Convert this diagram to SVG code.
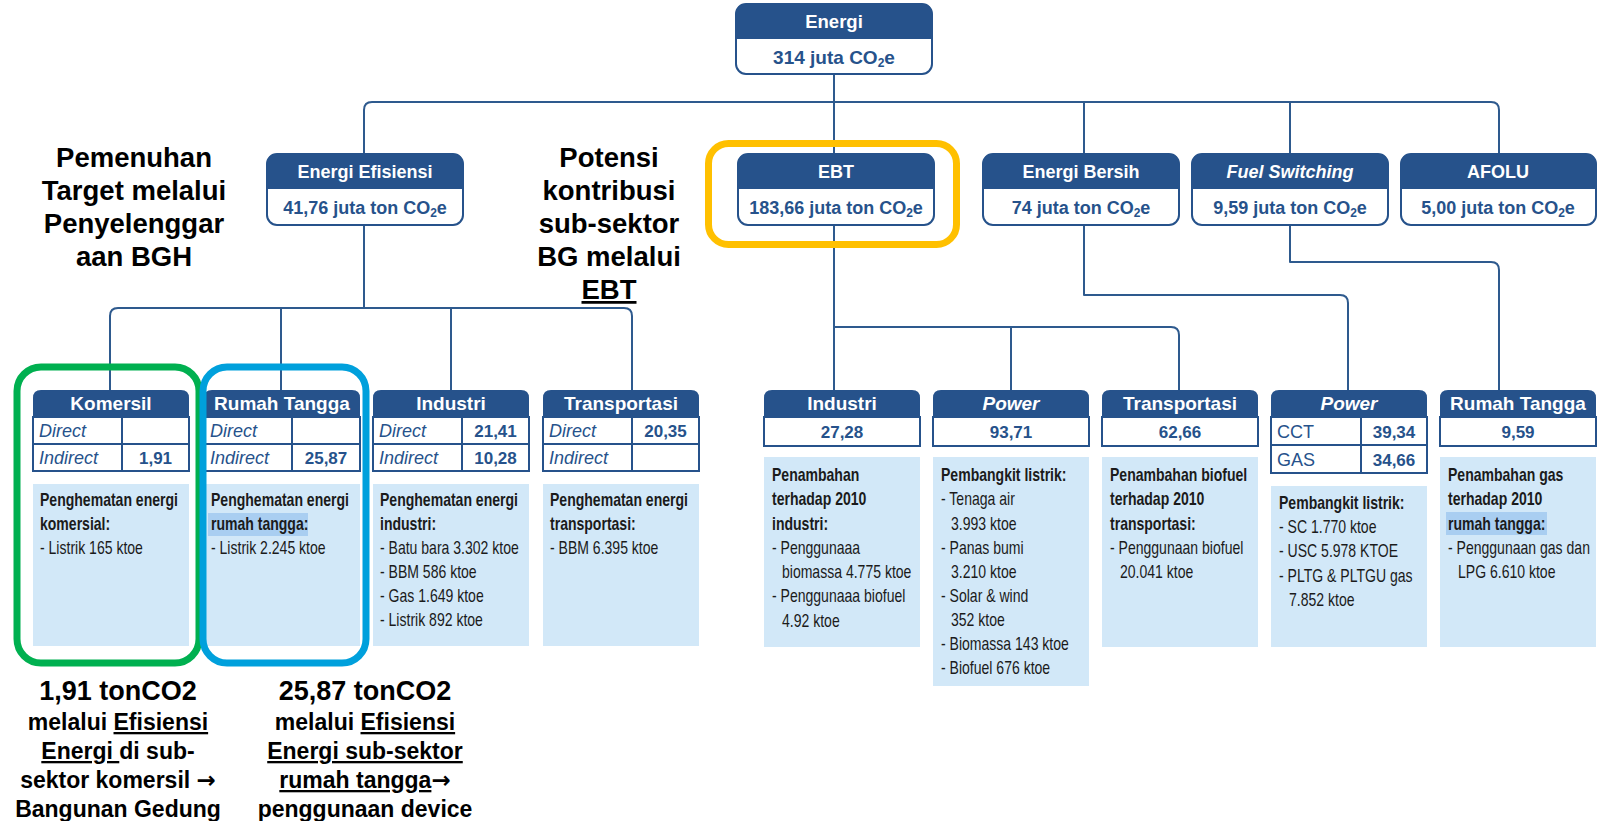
<svg xmlns="http://www.w3.org/2000/svg" width="1598" height="821" viewBox="0 0 1598 821">
<style>
.hd{fill:#26528B}
.bx{fill:#fff;stroke:#26528B;stroke-width:2}
.tb{fill:none;stroke:#26528B;stroke-width:2}
.ln{fill:none;stroke:#2E5A8E;stroke-width:2;stroke-linejoin:round}
.lb{fill:#D2E8F8}
.hl{fill:#A9CEF1}
.ht{font-family:"Liberation Sans",Arial,sans-serif;font-weight:bold;fill:#fff;text-anchor:middle}
.vt{font-family:"Liberation Sans",Arial,sans-serif;font-weight:bold;fill:#26528B;text-anchor:middle}
.it{font-family:"Liberation Sans",Arial,sans-serif;font-style:italic;fill:#26528B;font-size:18px}
.rg{font-family:"Liberation Sans",Arial,sans-serif;fill:#26528B;font-size:18px}
.d{font-family:"Liberation Sans",Arial,sans-serif;font-size:18px;fill:#1b1b1b}
.b{font-weight:bold}
.an{font-family:"Liberation Sans",Arial,sans-serif;font-weight:bold;fill:#000;text-anchor:middle}
.u{text-decoration:underline}
.ar{font-family:"DejaVu Sans",sans-serif;font-weight:bold}
.ring{fill:none;stroke-width:7}
</style>

<!-- connectors -->
<g id="connectors">
  <path class="ln" d="M834 74 V390"/>
  <path class="ln" d="M364 154 V110 Q364 102 372 102 H1491 Q1499 102 1499 110 V154"/>
  <path class="ln" d="M1084 102 V154"/>
  <path class="ln" d="M1290 102 V154"/>
  <path class="ln" d="M364 225 V308"/>
  <path class="ln" d="M110 390 V316 Q110 308 118 308 H624 Q632 308 632 316 V390"/>
  <path class="ln" d="M281 308 V390"/>
  <path class="ln" d="M451 308 V390"/>
  <path class="ln" d="M834 327 H1171 Q1179 327 1179 335 V390"/>
  <path class="ln" d="M1011 327 V390"/>
  <path class="ln" d="M1084 225 V295 H1340 Q1348 295 1348 303 V390"/>
  <path class="ln" d="M1290 225 V262 H1491 Q1499 262 1499 270 V390"/>
</g>

<!-- top node -->
<g id="n-energi">
  <rect class="bx" x="736" y="4" width="196" height="70" rx="10"/>
  <path class="hd" d="M736 39 V14 Q736 4 746 4 H922 Q932 4 932 14 V39 Z"/>
  <text class="ht" x="834" y="28" font-size="18.5">Energi</text>
  <text class="vt" x="834" y="64" font-size="19">314 juta CO<tspan font-size="12" dy="3">2</tspan><tspan dy="-3">e</tspan></text>
</g>

<!-- level 2 -->
<g id="n-ee">
  <rect class="bx" x="267" y="154" width="196" height="71" rx="10"/>
  <path class="hd" d="M267 189 V164 Q267 154 277 154 H453 Q463 154 463 164 V189 Z"/>
  <text class="ht" x="365" y="178" font-size="18">Energi Efisiensi</text>
  <text class="vt" x="365" y="214" font-size="18">41,76 juta ton CO<tspan font-size="12" dy="3">2</tspan><tspan dy="-3">e</tspan></text>
</g>
<g id="n-ebt">
  <rect class="bx" x="738" y="154" width="196" height="71" rx="10"/>
  <path class="hd" d="M738 189 V164 Q738 154 748 154 H924 Q934 154 934 164 V189 Z"/>
  <text class="ht" x="836" y="178" font-size="18">EBT</text>
  <text class="vt" x="836" y="214" font-size="18">183,66 juta ton CO<tspan font-size="12" dy="3">2</tspan><tspan dy="-3">e</tspan></text>
</g>
<g id="n-eb">
  <rect class="bx" x="983" y="154" width="196" height="71" rx="10"/>
  <path class="hd" d="M983 189 V164 Q983 154 993 154 H1169 Q1179 154 1179 164 V189 Z"/>
  <text class="ht" x="1081" y="178" font-size="18">Energi Bersih</text>
  <text class="vt" x="1081" y="214" font-size="18">74 juta ton CO<tspan font-size="12" dy="3">2</tspan><tspan dy="-3">e</tspan></text>
</g>
<g id="n-fs">
  <rect class="bx" x="1192" y="154" width="196" height="71" rx="10"/>
  <path class="hd" d="M1192 189 V164 Q1192 154 1202 154 H1378 Q1388 154 1388 164 V189 Z"/>
  <text class="ht" x="1290" y="178" font-size="18" font-style="italic">Fuel Switching</text>
  <text class="vt" x="1290" y="214" font-size="18">9,59 juta ton CO<tspan font-size="12" dy="3">2</tspan><tspan dy="-3">e</tspan></text>
</g>
<g id="n-afolu">
  <rect class="bx" x="1401" y="154" width="195" height="71" rx="10"/>
  <path class="hd" d="M1401 189 V164 Q1401 154 1411 154 H1586 Q1596 154 1596 164 V189 Z"/>
  <text class="ht" x="1498" y="178" font-size="18">AFOLU</text>
  <text class="vt" x="1498" y="214" font-size="18">5,00 juta ton CO<tspan font-size="12" dy="3">2</tspan><tspan dy="-3">e</tspan></text>
</g>

<!-- level 3 left -->
<g id="n-komersil">
  <rect class="bx" x="33" y="417" width="156" height="54"/>
  <path class="hd" d="M33 417 V398 Q33 390 41 390 H181 Q189 390 189 398 V417 Z"/>
  <path class="tb" d="M33 444 H189 M122 417 V471"/>
  <text class="ht" x="111" y="410" font-size="19">Komersil</text>
  <text class="it" x="39" y="437">Direct</text>
  <text class="it" x="39" y="464">Indirect</text>
  <text class="vt" x="155.5" y="464" font-size="17">1,91</text>
  <rect class="lb" x="33" y="484" width="156" height="162"/>
  <g transform="translate(40 0) scale(0.78 1)">
    <text class="d b" y="506">Penghematan energi</text>
    <text class="d b" y="530">komersial:</text>
    <text class="d" y="554">- Listrik 165 ktoe</text>
  </g>
</g>
<g id="n-rt1">
  <rect class="bx" x="204" y="417" width="156" height="54"/>
  <path class="hd" d="M204 417 V398 Q204 390 212 390 H352 Q360 390 360 398 V417 Z"/>
  <path class="tb" d="M204 444 H360 M292 417 V471"/>
  <text class="ht" x="282" y="410" font-size="19">Rumah Tangga</text>
  <text class="it" x="210" y="437">Direct</text>
  <text class="it" x="210" y="464">Indirect</text>
  <text class="vt" x="326" y="464" font-size="17">25,87</text>
  <rect class="lb" x="204" y="484" width="156" height="162"/>
  <rect class="hl" x="208" y="513" width="100" height="23"/>
  <g transform="translate(211 0) scale(0.78 1)">
    <text class="d b" y="506">Penghematan energi</text>
    <text class="d b" y="530">rumah tangga:</text>
    <text class="d" y="554">- Listrik 2.245 ktoe</text>
  </g>
</g>
<g id="n-ind1">
  <rect class="bx" x="373" y="417" width="156" height="54"/>
  <path class="hd" d="M373 417 V398 Q373 390 381 390 H521 Q529 390 529 398 V417 Z"/>
  <path class="tb" d="M373 444 H529 M462 417 V471"/>
  <text class="ht" x="451" y="410" font-size="19">Industri</text>
  <text class="it" x="379" y="437">Direct</text>
  <text class="it" x="379" y="464">Indirect</text>
  <text class="vt" x="495.5" y="437" font-size="17">21,41</text>
  <text class="vt" x="495.5" y="464" font-size="17">10,28</text>
  <rect class="lb" x="373" y="484" width="156" height="162"/>
  <g transform="translate(380 0) scale(0.78 1)">
    <text class="d b" y="506">Penghematan energi</text>
    <text class="d b" y="530">industri:</text>
    <text class="d" y="554">- Batu bara 3.302 ktoe</text>
    <text class="d" y="578">- BBM 586 ktoe</text>
    <text class="d" y="602">- Gas 1.649 ktoe</text>
    <text class="d" y="626">- Listrik 892 ktoe</text>
  </g>
</g>
<g id="n-tr1">
  <rect class="bx" x="543" y="417" width="156" height="54"/>
  <path class="hd" d="M543 417 V398 Q543 390 551 390 H691 Q699 390 699 398 V417 Z"/>
  <path class="tb" d="M543 444 H699 M632 417 V471"/>
  <text class="ht" x="621" y="410" font-size="19">Transportasi</text>
  <text class="it" x="549" y="437">Direct</text>
  <text class="it" x="549" y="464">Indirect</text>
  <text class="vt" x="665.5" y="437" font-size="17">20,35</text>
  <rect class="lb" x="543" y="484" width="156" height="162"/>
  <g transform="translate(550 0) scale(0.78 1)">
    <text class="d b" y="506">Penghematan energi</text>
    <text class="d b" y="530">transportasi:</text>
    <text class="d" y="554">- BBM 6.395 ktoe</text>
  </g>
</g>

<!-- level 3 right -->
<g id="n-ind2">
  <rect class="bx" x="764" y="417" width="156" height="29"/>
  <path class="hd" d="M764 417 V398 Q764 390 772 390 H912 Q920 390 920 398 V417 Z"/>
  <text class="ht" x="842" y="410" font-size="19">Industri</text>
  <text class="vt" x="842" y="438" font-size="17">27,28</text>
  <rect class="lb" x="764" y="457" width="156" height="190"/>
  <g transform="translate(772 0) scale(0.78 1)">
    <text class="d b" y="481">Penambahan</text>
    <text class="d b" y="505">terhadap 2010</text>
    <text class="d b" y="530">industri:</text>
    <text class="d" y="554">- Penggunaaa</text>
    <text class="d" x="12.8" y="578">biomassa 4.775 ktoe</text>
    <text class="d" y="602">- Penggunaaa biofuel</text>
    <text class="d" x="12.8" y="627">4.92 ktoe</text>
  </g>
</g>
<g id="n-pow1">
  <rect class="bx" x="933" y="417" width="156" height="29"/>
  <path class="hd" d="M933 417 V398 Q933 390 941 390 H1081 Q1089 390 1089 398 V417 Z"/>
  <text class="ht" x="1011" y="410" font-size="19" font-style="italic">Power</text>
  <text class="vt" x="1011" y="438" font-size="17">93,71</text>
  <rect class="lb" x="933" y="457" width="156" height="229"/>
  <g transform="translate(941 0) scale(0.78 1)">
    <text class="d b" y="481">Pembangkit listrik:</text>
    <text class="d" y="505">- Tenaga air</text>
    <text class="d" x="12.8" y="530">3.993 ktoe</text>
    <text class="d" y="554">- Panas bumi</text>
    <text class="d" x="12.8" y="578">3.210 ktoe</text>
    <text class="d" y="602">- Solar &amp; wind</text>
    <text class="d" x="12.8" y="626">352 ktoe</text>
    <text class="d" y="650">- Biomassa 143 ktoe</text>
    <text class="d" y="674">- Biofuel 676 ktoe</text>
  </g>
</g>
<g id="n-tr2">
  <rect class="bx" x="1102" y="417" width="156" height="29"/>
  <path class="hd" d="M1102 417 V398 Q1102 390 1110 390 H1250 Q1258 390 1258 398 V417 Z"/>
  <text class="ht" x="1180" y="410" font-size="19">Transportasi</text>
  <text class="vt" x="1180" y="438" font-size="17">62,66</text>
  <rect class="lb" x="1102" y="457" width="156" height="190"/>
  <g transform="translate(1110 0) scale(0.78 1)">
    <text class="d b" y="481">Penambahan biofuel</text>
    <text class="d b" y="505">terhadap 2010</text>
    <text class="d b" y="530">transportasi:</text>
    <text class="d" y="554">- Penggunaan biofuel</text>
    <text class="d" x="12.8" y="578">20.041 ktoe</text>
  </g>
</g>
<g id="n-pow2">
  <rect class="bx" x="1271" y="417" width="156" height="56"/>
  <path class="hd" d="M1271 417 V398 Q1271 390 1279 390 H1419 Q1427 390 1427 398 V417 Z"/>
  <path class="tb" d="M1271 445 H1427 M1361 417 V473"/>
  <text class="ht" x="1349" y="410" font-size="19" font-style="italic">Power</text>
  <text class="rg" x="1277" y="438">CCT</text>
  <text class="rg" x="1277" y="466">GAS</text>
  <text class="vt" x="1394" y="438" font-size="17">39,34</text>
  <text class="vt" x="1394" y="466" font-size="17">34,66</text>
  <rect class="lb" x="1271" y="486" width="156" height="161"/>
  <g transform="translate(1279 0) scale(0.78 1)">
    <text class="d b" y="509">Pembangkit listrik:</text>
    <text class="d" y="533">- SC 1.770 ktoe</text>
    <text class="d" y="557">- USC 5.978 KTOE</text>
    <text class="d" y="582">- PLTG &amp; PLTGU gas</text>
    <text class="d" x="12.8" y="606">7.852 ktoe</text>
  </g>
</g>
<g id="n-rt2">
  <rect class="bx" x="1440" y="417" width="156" height="29"/>
  <path class="hd" d="M1440 417 V398 Q1440 390 1448 390 H1588 Q1596 390 1596 398 V417 Z"/>
  <text class="ht" x="1518" y="410" font-size="19">Rumah Tangga</text>
  <text class="vt" x="1518" y="438" font-size="17">9,59</text>
  <rect class="lb" x="1440" y="457" width="156" height="190"/>
  <rect class="hl" x="1446" y="512" width="101" height="23"/>
  <g transform="translate(1448 0) scale(0.78 1)">
    <text class="d b" y="481">Penambahan gas</text>
    <text class="d b" y="505">terhadap 2010</text>
    <text class="d b" y="530">rumah tangga:</text>
    <text class="d" y="554">- Penggunaan gas dan</text>
    <text class="d" x="12.8" y="578">LPG 6.610 ktoe</text>
  </g>
</g>

<!-- highlight rings -->
<g id="rings">
  <rect class="ring" x="708.5" y="143.5" width="248" height="101" rx="20" stroke="#FFC000"/>
  <rect class="ring" x="17" y="367" width="182" height="296" rx="24" stroke="#00B050"/>
  <rect class="ring" x="203" y="367" width="163" height="296" rx="24" stroke="#00A0DC"/>
</g>

<!-- annotations -->
<g id="annotations">
  <text class="an" font-size="27.5" x="134" y="167">Pemenuhan</text>
  <text class="an" font-size="27.5" x="134" y="200">Target melalui</text>
  <text class="an" font-size="27.5" x="134" y="233">Penyelenggar</text>
  <text class="an" font-size="27.5" x="134" y="266">aan BGH</text>

  <text class="an" font-size="27.5" x="609" y="167">Potensi</text>
  <text class="an" font-size="27.5" x="609" y="200">kontribusi</text>
  <text class="an" font-size="27.5" x="609" y="233">sub-sektor</text>
  <text class="an" font-size="27.5" x="609" y="266">BG melalui</text>
  <text class="an u" font-size="27.5" x="609" y="299">EBT</text>

  <text class="an" font-size="27" x="118" y="700">1,91 tonCO2</text>
  <text class="an" font-size="23" x="118" y="730">melalui <tspan class="u">Efisiensi</tspan></text>
  <text class="an" font-size="23" x="118" y="759"><tspan class="u">Energi </tspan>di sub-</text>
  <text class="an" font-size="23" x="118" y="788">sektor komersil <tspan class="ar">→</tspan></text>
  <text class="an" font-size="23" x="118" y="817">Bangunan Gedung</text>

  <text class="an" font-size="27" x="365" y="700">25,87 tonCO2</text>
  <text class="an" font-size="23" x="365" y="730">melalui <tspan class="u">Efisiensi</tspan></text>
  <text class="an" font-size="23" x="365" y="759"><tspan class="u">Energi sub-sektor</tspan></text>
  <text class="an" font-size="23" x="365" y="788"><tspan class="u">rumah tangga</tspan><tspan class="ar">→</tspan></text>
  <text class="an" font-size="23" x="365" y="817">penggunaan device</text>
</g>
</svg>
